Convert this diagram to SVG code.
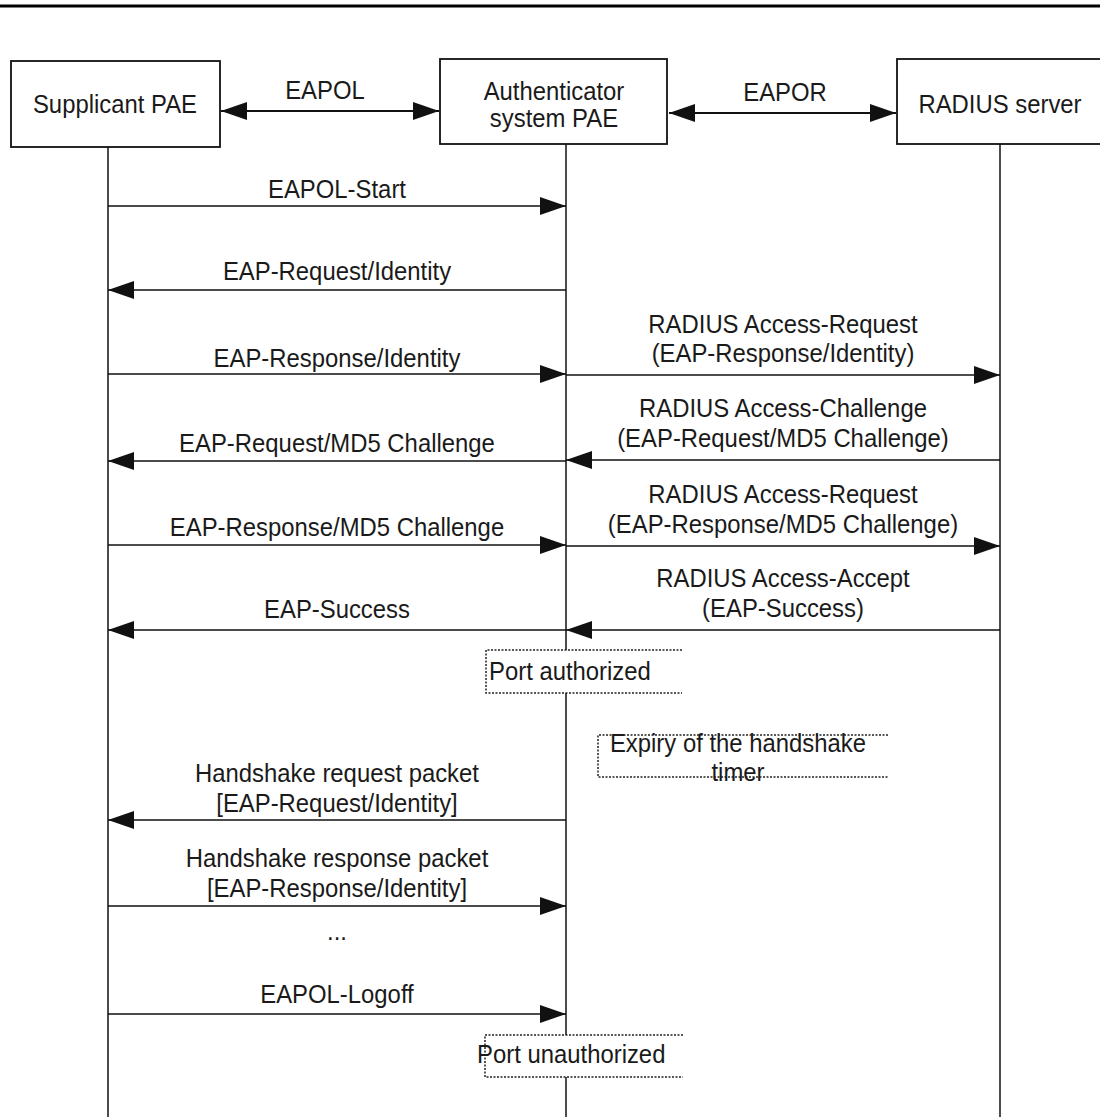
<svg xmlns="http://www.w3.org/2000/svg" width="1100" height="1117" viewBox="0 0 1100 1117">
<defs>
<marker id="ah" viewBox="0 0 26 18" refX="26" refY="9" markerWidth="26" markerHeight="18" markerUnits="userSpaceOnUse" orient="auto-start-reverse">
<path d="M0,0 L26,9 L0,18 Z" fill="#111"/>
</marker>
</defs>
<style>
text{font-family:"Liberation Sans",Arial,sans-serif;font-size:25px;fill:#1a1a1a}
.c{text-anchor:middle}
.box{fill:#fff;stroke:#111;stroke-width:1.8}
.life{stroke:#111;stroke-width:1.5}
.msg{stroke:#111;stroke-width:1.6;fill:none;marker-end:url(#ah)}
.dbl{stroke:#111;stroke-width:1.8;fill:none;marker-end:url(#ah);marker-start:url(#ah)}
.dash{fill:none;stroke:#222;stroke-width:1.5;stroke-dasharray:2 1.5}
.wh{fill:#fff;stroke:none}
</style>
<rect width="1100" height="1117" fill="#fff"/>
<line x1="0" y1="6" x2="1100" y2="6" stroke="#000" stroke-width="3"/>
<g id="lifelines">
<line class="life" x1="108" y1="147" x2="108" y2="1117"/>
<line class="life" x1="566" y1="144" x2="566" y2="1117"/>
<line class="life" x1="1000" y1="144" x2="1000" y2="1117"/>
</g>
<g id="supplicant">
<rect class="box" x="11" y="61" width="209" height="86"/>
<text class="c" transform="scale(0.955,1)" x="120.42" y="113">Supplicant PAE</text>
</g>
<g id="authenticator">
<rect class="box" x="440" y="59" width="227" height="85"/>
<text class="c" transform="scale(0.955,1)" x="580.10" y="100">Authenticator</text>
<text class="c" transform="scale(0.955,1)" x="580.10" y="127">system PAE</text>
</g>
<g id="radius">
<rect class="box" x="897" y="59" width="210" height="85"/>
<text class="c" transform="scale(0.955,1)" x="1047.12" y="113">RADIUS server</text>
</g>
<g id="port-authorized">
<rect class="wh" x="486" y="650" width="196" height="43"/>
<path class="dash" d="M682,650 H486 V693 H682"/>
<text transform="scale(0.955,1)" x="512.04" y="680">Port authorized</text>
</g>
<g id="expiry">
<rect class="wh" x="598" y="735" width="290" height="42"/>
<path class="dash" d="M888,735 H598 V777 H888"/>
<text class="c" transform="scale(0.955,1)" x="772.77" y="752">Expiry of the handshake</text>
<text class="c" transform="scale(0.955,1)" x="772.77" y="781">timer</text>
</g>
<g id="port-unauthorized">
<rect class="wh" x="485" y="1035" width="198" height="42"/>
<path class="dash" d="M683,1035 H485 V1077 H683"/>
<text transform="scale(0.955,1)" x="499.48" y="1063">Port unauthorized</text>
</g>
<g id="connectors">
<line class="dbl" x1="221" y1="111" x2="439" y2="111"/>
<text class="c" transform="scale(0.955,1)" x="340.31" y="99">EAPOL</text>
<line class="dbl" x1="669" y1="113" x2="896" y2="113"/>
<text class="c" transform="scale(0.955,1)" x="821.99" y="101">EAPOR</text>

<line class="msg" x1="108" y1="206" x2="566" y2="206"/>
<text class="c" transform="scale(0.955,1)" x="352.88" y="198">EAPOL-Start</text>

<line class="msg" x1="566" y1="290" x2="108" y2="290"/>
<text class="c" transform="scale(0.955,1)" x="352.88" y="280">EAP-Request/Identity</text>

<line class="msg" x1="108" y1="374" x2="566" y2="374"/>
<text class="c" transform="scale(0.955,1)" x="352.88" y="367">EAP-Response/Identity</text>
<line class="msg" x1="566" y1="375" x2="1000" y2="375"/>
<text class="c" transform="scale(0.955,1)" x="819.90" y="333">RADIUS Access-Request</text>
<text class="c" transform="scale(0.955,1)" x="819.90" y="362">(EAP-Response/Identity)</text>

<line class="msg" x1="1000" y1="460" x2="566" y2="460"/>
<text class="c" transform="scale(0.955,1)" x="819.90" y="417">RADIUS Access-Challenge</text>
<text class="c" transform="scale(0.955,1)" x="819.90" y="447">(EAP-Request/MD5 Challenge)</text>
<line class="msg" x1="566" y1="461" x2="108" y2="461"/>
<text class="c" transform="scale(0.955,1)" x="352.88" y="452">EAP-Request/MD5 Challenge</text>

<line class="msg" x1="108" y1="545" x2="566" y2="545"/>
<text class="c" transform="scale(0.955,1)" x="352.88" y="536">EAP-Response/MD5 Challenge</text>
<line class="msg" x1="566" y1="546" x2="1000" y2="546"/>
<text class="c" transform="scale(0.955,1)" x="819.90" y="503">RADIUS Access-Request</text>
<text class="c" transform="scale(0.955,1)" x="819.90" y="533">(EAP-Response/MD5 Challenge)</text>

<line class="msg" x1="1000" y1="630" x2="566" y2="630"/>
<text class="c" transform="scale(0.955,1)" x="819.90" y="587">RADIUS Access-Accept</text>
<text class="c" transform="scale(0.955,1)" x="819.90" y="617">(EAP-Success)</text>
<line class="msg" x1="566" y1="630" x2="108" y2="630"/>
<text class="c" transform="scale(0.955,1)" x="352.88" y="618">EAP-Success</text>

<line class="msg" x1="566" y1="820" x2="108" y2="820"/>
<text class="c" transform="scale(0.955,1)" x="352.88" y="782">Handshake request packet</text>
<text class="c" transform="scale(0.955,1)" x="352.88" y="812">[EAP-Request/Identity]</text>

<line class="msg" x1="108" y1="906" x2="566" y2="906"/>
<text class="c" transform="scale(0.955,1)" x="352.88" y="867">Handshake response packet</text>
<text class="c" transform="scale(0.955,1)" x="352.88" y="897">[EAP-Response/Identity]</text>

<text class="c" transform="scale(0.955,1)" x="352.88" y="940">...</text>

<line class="msg" x1="108" y1="1014" x2="566" y2="1014"/>
<text class="c" transform="scale(0.955,1)" x="352.88" y="1003">EAPOL-Logoff</text>
</g>
</svg>
